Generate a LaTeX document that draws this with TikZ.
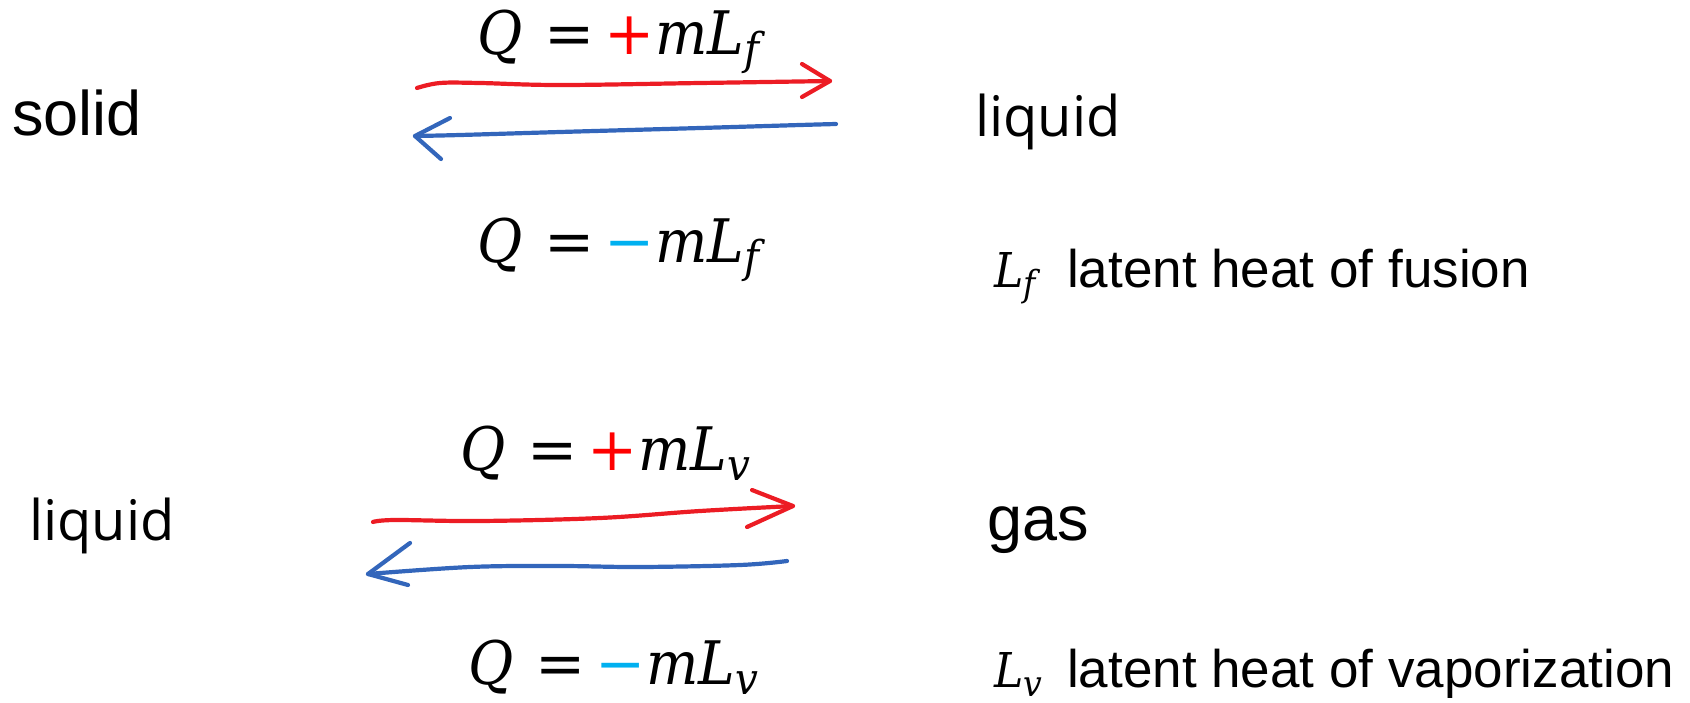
\documentclass[tikz,border=0pt]{standalone}
\usepackage{fontspec}
\setmainfont{Liberation Sans}
\newfontfamily\segoe{Open Sans}
\newfontfamily\eqr{DejaVu Serif}[FakeStretch=0.92]
\newfontfamily\eqo{DejaVu Serif}
\newcommand{\eqi}{\eqr\itshape}
\definecolor{penred}{HTML}{EC1C24}
\definecolor{penblue}{HTML}{3366BB}
\definecolor{plusred}{HTML}{FF0000}
\definecolor{minuscyan}{HTML}{00B0F0}
% #1 colour, #2 sign, #3 subscript
\newcommand{\heateq}[3]{{\eqi Q}\hspace{22pt}{\eqo =}\hspace{10pt}{\color{#1}\eqo #2}{\eqi mL}\raisebox{-10pt}{\eqi\fontsize{44}{44}\selectfont #3}}
\newcommand{\heatsym}[1]{{\eqi L}\raisebox{-9pt}{\eqi\fontsize{36}{36}\selectfont #1}}
\tikzset{
  phase/.style={inner sep=0pt, anchor=base west, font=\fontsize{63}{70}\selectfont},
  phaseb/.style={inner sep=0pt, anchor=base west, font=\segoe\fontsize{56}{64}\selectfont},
  eqn/.style={inner sep=0pt, anchor=base west, font=\fontsize{60}{66}\selectfont},
  note/.style={inner sep=0pt, anchor=base west, font=\fontsize{53}{60}\selectfont},
  sym/.style={inner sep=0pt, anchor=base west, font=\fontsize{48}{54}\selectfont},
  pen/.style={line width=4.2pt, line cap=round, line join=round},
}
\begin{document}
\begin{tikzpicture}[x=1pt,y=-1pt]
\useasboundingbox (0,0) rectangle (1690,702);
% phases
\node[phase]  (solid)   at (12,135)  {solid};
\node[phaseb] (liquidA) at (975,136) {liquid};
\node[phaseb] (liquidB) at (29,540)  {liquid};
\node[phase]  (gas)     at (987,540) {gas};
% equations
\node[eqn] (eqfp) at (477,54)  {\heateq{plusred}{+}{f}};
\node[eqn] (eqfm) at (477,262) {\heateq{minuscyan}{−}{f}};
\node[eqn] (eqvp) at (460,470) {\heateq{plusred}{+}{v}};
\node[eqn] (eqvm) at (468,684) {\heateq{minuscyan}{−}{v}};
% notes
\node[sym]  (symF)  at (994,287) {\heatsym{f}};
\node[note] (noteF) at (1067,287) {latent heat of fusion};
\node[sym]  (symV)  at (994,687) {\heatsym{v}};
\node[note] (noteV) at (1067,687) {latent heat of vaporization};
% arrow end points
\coordinate (rfA) at (417,88);  \coordinate (rfB) at (830,81);
\coordinate (bfA) at (836,124); \coordinate (bfB) at (415,136);
\coordinate (rvA) at (373,522); \coordinate (rvB) at (793,506);
\coordinate (bvA) at (787,561); \coordinate (bvB) at (368,574);
% fusion arrows
\draw[pen, penred] plot[smooth, tension=0.6] coordinates {(rfA) (440,83) (480,83) (560,85) (700,83) (rfB)};
\draw[pen, penred] (802,64) -- (rfB) -- (802,97);
\draw[pen, penblue] plot[smooth, tension=0.6] coordinates {(bfA) (800,125) (700,128) (560,132) (460,135) (bfB)};
\draw[pen, penblue] (450,118) -- (bfB) -- (441,159);
% vaporization arrows
\draw[pen, penred] plot[smooth, tension=0.6] coordinates {(rvA) (395,520) (480,521) (600,518) (700,511) (rvB)};
\draw[pen, penred] (752,490) -- (rvB) -- (747,527);
\draw[pen, penblue] plot[smooth, tension=0.6] coordinates {(bvA) (740,565) (640,567) (560,566) (470,567) (bvB)};
\draw[pen, penblue] (410,543) -- (bvB) -- (408,585);
\end{tikzpicture}
\end{document}
